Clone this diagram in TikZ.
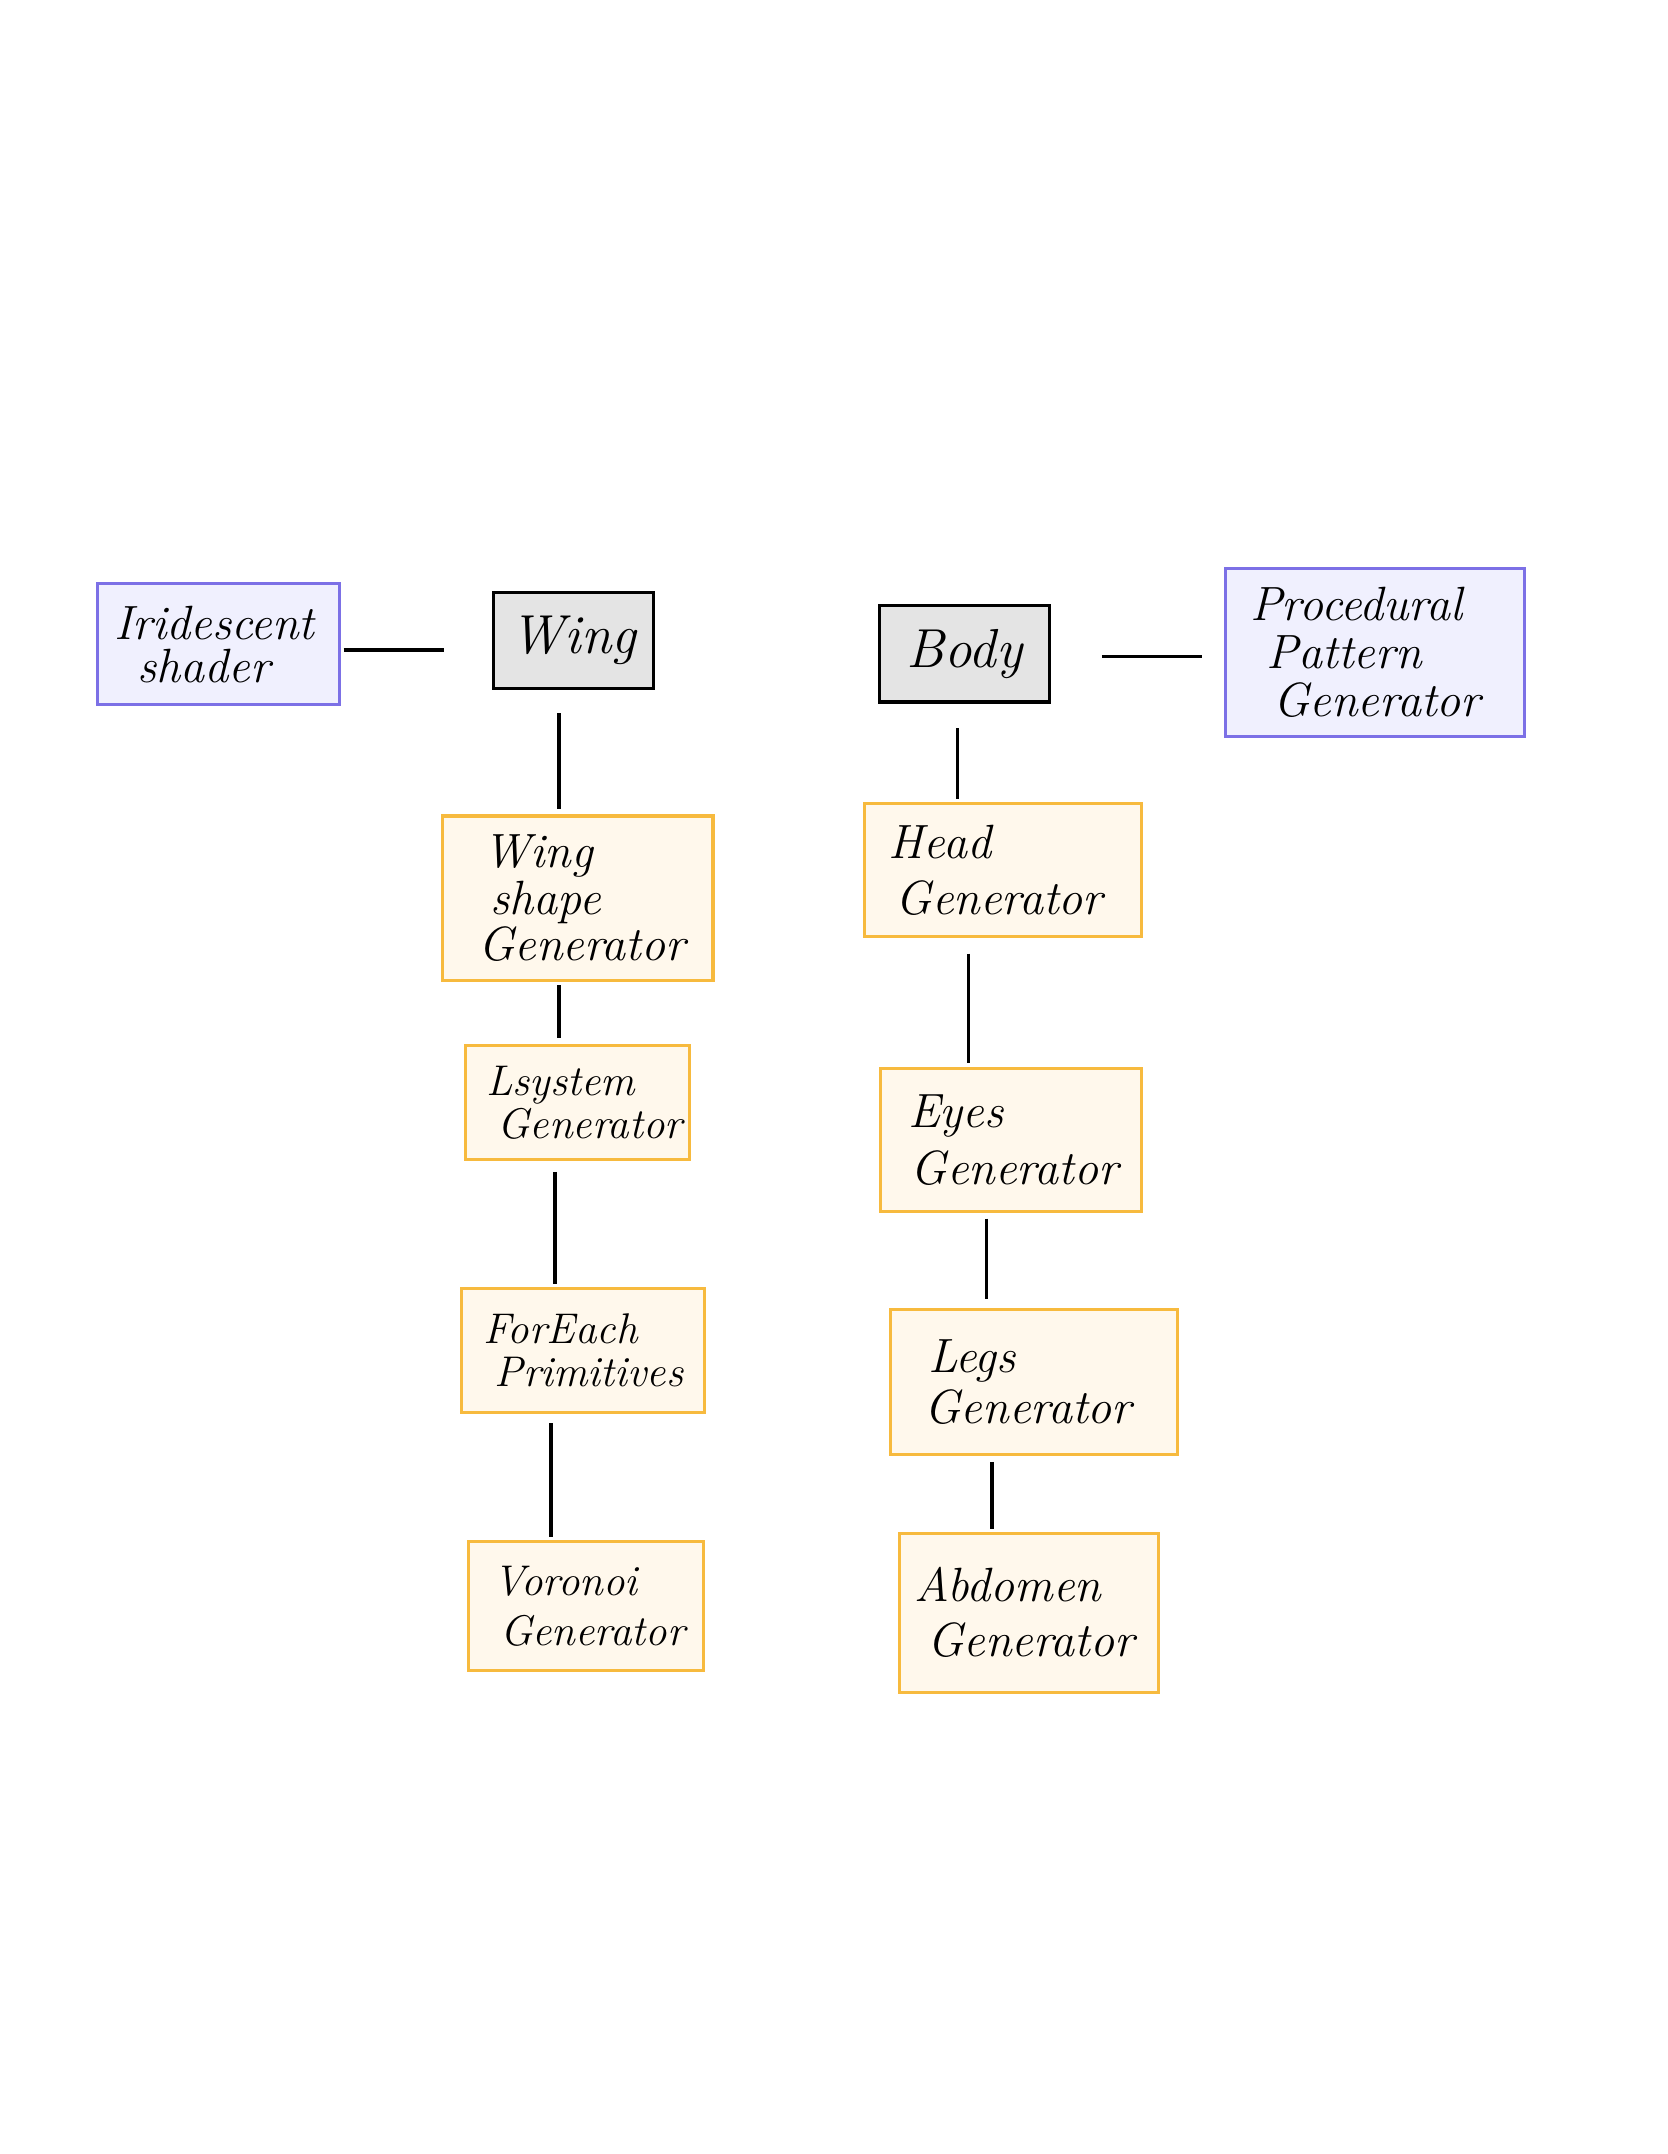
\documentclass[tikz,border=0pt]{standalone}
\usepackage{fontspec}
\begin{document}
\begin{tikzpicture}[x=0.4pt,y=-0.4pt,
  every node/.style={font=\fontsize{14}{12.5}\selectfont\itshape},
  small/.style={font=\fontsize{12.5}{12.5}\selectfont\itshape},
  gbox/.style={draw=black,fill=boxgray,line width=0.9pt,minimum width=#1},
  ybox/.style={draw=ylw,fill=ylwfill,line width=0.9pt,align=left,
    execute at begin node={\hyphenpenalty=10000\exhyphenpenalty=10000\hbadness=10000\hfuzz=50pt}},
  bbox/.style={draw=blu,fill=blufill,line width=0.9pt,align=left,
    execute at begin node={\hyphenpenalty=10000\exhyphenpenalty=10000\hbadness=10000\hfuzz=50pt}},
  conn/.style={line width=1pt}]
\definecolor{boxgray}{HTML}{E4E4E4}
\definecolor{ylw}{HTML}{F7BA3E}
\definecolor{ylwfill}{HTML}{FFF8EC}
\definecolor{blu}{HTML}{7C70E6}
\definecolor{blufill}{HTML}{F0F0FE}
\useasboundingbox (0,0) rectangle (1214,1568);
\fill[white] (0,0) rectangle (1214,1568);
% gray boxes
\node[gbox=46.8pt,minimum height=28pt,font=\fontsize{16}{16}\selectfont\itshape] (wing) at (417.5,466) {Wing};
\node[gbox=49.6pt,minimum height=28pt,font=\fontsize{16}{16}\selectfont\itshape] (body) at (702,476) {Body};
% blue boxes
\node[bbox,minimum width=70.4pt,minimum height=35.2pt,inner xsep=4.8pt,text width=60.8pt] (irid) at (159,469) {Iridescent\\\hspace*{6.8pt}shader};
\node[bbox,font=\fontsize{14}{14}\selectfont\itshape,minimum width=87.2pt,minimum height=48.8pt,inner xsep=7.2pt,text width=72.8pt] (proc) at (1001,475) {Procedural\\\hspace*{4.8pt}Pattern\\\hspace*{6.8pt}Generator};
% yellow boxes
\node[ybox,minimum width=78.8pt,minimum height=48pt,inner xsep=10.4pt,text width=58pt] (ws) at (420.5,654) {\hspace*{1.6pt}Wing\\\hspace*{3.6pt}shape\\Generator};
\node[ybox,small,minimum width=65.2pt,minimum height=33.2pt,inner xsep=6pt,text width=53.2pt] (ls) at (420.5,802.5) {Lsystem\\\hspace*{3.2pt}Generator};
\node[ybox,small,minimum width=70.8pt,minimum height=36pt,inner xsep=6.4pt,text width=58pt] (fe) at (424.5,983) {ForEach\\\hspace*{3.2pt}Primitives};
\node[ybox,font=\fontsize{12.5}{14.5}\selectfont\itshape,minimum width=68.4pt,minimum height=37.6pt,inner xsep=7.2pt,text width=54pt] (vor) at (426.5,1169) {Voronoi\\\hspace*{2pt}Generator};
\node[ybox,font=\fontsize{14}{16.5}\selectfont\itshape,minimum width=80.8pt,minimum height=38.8pt,inner xsep=7.2pt,text width=66.4pt] (head) at (730,633.5) {Head\\\hspace*{2pt}Generator};
\node[ybox,font=\fontsize{14}{16.5}\selectfont\itshape,minimum width=76pt,minimum height=41.6pt,inner xsep=8pt,text width=60pt] (eyes) at (736,830) {Eyes\\\hspace*{0.8pt}Generator};
\node[ybox,font=\fontsize{14}{15}\selectfont\itshape,minimum width=83.6pt,minimum height=42.4pt,inner xsep=10pt,text width=63.6pt] (legs) at (752.5,1006) {\hspace*{1.2pt}Legs\\Generator};
\node[ybox,font=\fontsize{14}{16}\selectfont\itshape,minimum width=75.2pt,minimum height=46.4pt,inner xsep=4.4pt,text width=66.4pt] (abd) at (749,1174) {Abdomen\\\hspace*{3.6pt}Generator};
% connectors
\draw[conn,shorten <=0.8pt,shorten >=14pt] (irid.east |- 0,473) -- (wing.west |- 0,473);
\draw[conn,shorten <=14.8pt,shorten >=6.4pt] (body.east |- 0,478) -- (proc.west |- 0,478);
\draw[conn,shorten <=6.8pt,shorten >=1.6pt] (wing.south -| 407,0) -- (ws.north -| 407,0);
\draw[conn,shorten <=0.8pt,shorten >=1.6pt] (ws.south -| 407,0) -- (ls.north -| 407,0);
\draw[conn,shorten <=3.2pt,shorten >=0.8pt] (ls.south -| 404,0) -- (fe.north -| 404,0);
\draw[conn,shorten <=2.8pt,shorten >=0.8pt] (fe.south -| 401,0) -- (vor.north -| 401,0);
\draw[conn,shorten <=7.2pt,shorten >=0.8pt] (body.south -| 697,0) -- (head.north -| 697,0);
\draw[conn,shorten <=4.4pt,shorten >=1.2pt] (head.south -| 705,0) -- (eyes.north -| 705,0);
\draw[conn,shorten <=1.6pt,shorten >=2.4pt] (eyes.south -| 718,0) -- (legs.north -| 718,0);
\draw[conn,shorten <=1.6pt,shorten >=0.8pt] (legs.south -| 722,0) -- (abd.north -| 722,0);
\end{tikzpicture}
\end{document}
